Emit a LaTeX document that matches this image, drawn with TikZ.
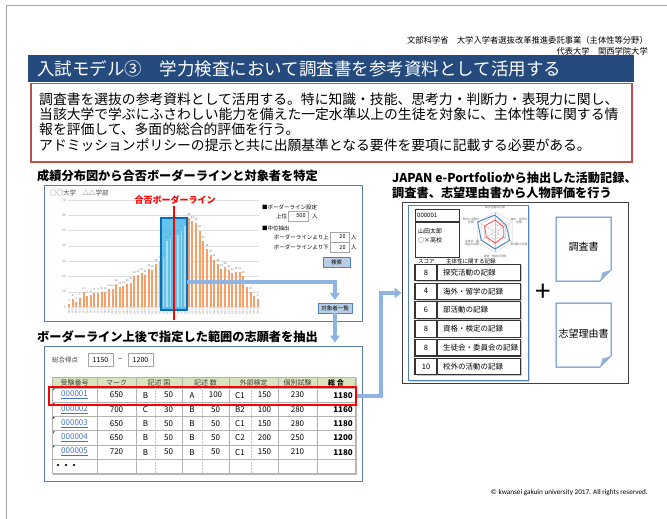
\documentclass[tikz,border=0pt]{standalone}
\usepackage{fontspec}
\setmainfont{Noto Sans CJK JP}
\newfontfamily\copyfont{Carlito}
\usetikzlibrary{arrows.meta}
\newcommand\fsz[1]{\fontsize{#1}{#1}\selectfont}
\definecolor{titleblue}{HTML}{244A7E}
\definecolor{boxred}{HTML}{C0504D}
\definecolor{panelblue}{HTML}{5B7BA6}
\definecolor{barorange}{HTML}{F5A068}
\definecolor{selcyan}{HTML}{3CB4E6}
\definecolor{selblue}{HTML}{0A6DB8}
\definecolor{arrowblue}{HTML}{8DB4E2}
\definecolor{btnfill}{HTML}{B9CDE5}
\definecolor{btnborder}{HTML}{4F81BD}
\definecolor{hdrgreen}{HTML}{D7E4BD}
\definecolor{linkblue}{HTML}{4472C4}
\definecolor{cardblue}{HTML}{4F81BD}
\tikzset{
 ctrlbox/.style={draw=gray!70, fill=white, inner sep=0, minimum height=10pt, font=\fsz{5.5}},
 btn/.style={draw=btnborder, fill=btnfill, inner sep=0, minimum height=10pt, font=\fsz{5.5}},
 barr/.style={draw=arrowblue, line width=3.5pt, -{Triangle[width=10pt,length=7pt]}},
 scorebox/.style={draw=black!80, line width=1.1pt, inner sep=0, minimum height=16.5pt, font=\fsz{7.5}},
 doc/.style={draw=cardblue, line width=1pt, fill=white},
 ctl/.style={inner sep=0, font=\fsz{5.5}},
 tab/.style={inner sep=0, font=\fsz{8}},
 thdr/.style={inner sep=0, font=\fsz{7}, text=black!75},
 head/.style={inner sep=0, anchor=west, font=\bfseries\fsz{12.2}},
 tiny/.style={inner sep=0, font=\fsz{2.8}, text=black!60, align=center},
}
\begin{document}
\begin{tikzpicture}[x=1pt,y=-1pt]
\useasboundingbox (0,0) rectangle (667,519);
% page border
\draw[gray!70, line width=0.8pt] (6,519) -- (6,5) -- (667,5);
% header
\node[anchor=east, inner sep=0, font=\fsz{8.3}] (hdr1) at (648,40) {文部科学省　大学入学者選抜改革推進委託事業（主体性等分野）};
\node[anchor=east, inner sep=0, font=\fsz{8.3}] (hdr2) at (648,51) {代表大学　関西学院大学};
% title bar
\node[fill=titleblue, minimum width=606pt, minimum height=27pt, inner sep=0] (tbar) at (331,68.5) {};
\node[anchor=west, inner sep=0, text=white, font=\fsz{17.5}] (ttl) at (37,68.5) {入試モデル③　学力検査において調査書を参考資料として活用する};
% text box
\node[draw=boxred, line width=1.2pt, minimum width=601pt, minimum height=78.5pt, inner sep=0] (tbox) at (331.5,122.75) {};
\node[anchor=base west, inner sep=0, font=\fsz{13.8}] (tb1) at (39,104) {調査書を選抜の参考資料として活用する。特に知識・技能、思考力・判断力・表現力に関し、};
\node[anchor=base west, inner sep=0, font=\fsz{13.8}] (tb2) at (39,119.5) {当該大学で学ぶにふさわしい能力を備えた一定水準以上の生徒を対象に、主体性等に関する情};
\node[anchor=base west, inner sep=0, font=\fsz{13.8}] (tb3) at (39,135) {報を評価して、多面的総合的評価を行う。};
\node[anchor=base west, inner sep=0, font=\fsz{13.8}] (tb4) at (39,150.5) {アドミッションポリシーの提示と共に出願基準となる要件を要項に記載する必要がある。};
% ---------- chart section
\node[head] (h1) at (37,176) {成績分布図から合否ボーダーラインと対象者を特定};
\node[draw=panelblue, line width=1pt, minimum width=318pt, minimum height=136pt, inner sep=0] (cpanel) at (203,253) {};
\node[anchor=west, inner sep=0, font=\fsz{6.5}, text=black!70] (univ) at (50,193) {○○大学　△△学部};
\foreach \v in {0,10,...,70}{
  \draw[gray!25, line width=0.3pt] (68,{307-1.53*\v}) -- (259,{307-1.53*\v});
  \node[anchor=east, inner sep=0, font=\fsz{3.2}, text=black!50] (yl\v) at (66,{307-1.53*\v}) {\v};
}
\foreach \v [count=\i from 0] in {2,5,3,6,10,7,8,9,9,10,10,12,12,15,13,14,15,16,20,21,22,21,25,24,28,30,32,43,45,46,47,50,53,58,56,55,50,43,38,34,31,28,25,26,24,22,23,23,20,13,10,7,5}{
  \fill[barorange] ({69+3.63*\i-1},307) rectangle ({69+3.63*\i+1},{307-1.53*\v});
  \node[inner sep=0, font=\fsz{2.6}, text=black!60] (bl\i) at ({69+3.63*\i},{303.5-1.53*\v}) {\v};
  \pgfmathtruncatemacro\sc{880+10*\i}
  \node[inner sep=0, font=\fsz{2.6}, text=black!45, rotate=90, anchor=east] (bx\i) at ({69+3.63*\i},309) {\sc};
}
\node[draw=selblue, line width=2.2pt, fill=selcyan, fill opacity=0.8, minimum width=26pt, minimum height=92pt, inner sep=0] (sel) at (174,264) {};
\foreach \v [count=\i from 26] in {32,43,45,46,47,50,53}{
  \fill[white!55!selcyan] ({69+3.63*\i-0.8},307) rectangle ({69+3.63*\i+0.8},{307-1.53*\v});
}
\node[inner sep=0, text=red, font=\bfseries\fsz{9}] (blbl) at (175,200) {合否ボーダーライン};
\coordinate (redtop) at (174,206);
\coordinate (redbot) at (174,320);
\draw[red, line width=2pt] (redtop) -- (redbot);
% controls
\node[anchor=west, ctl] (set) at (262,207) {■ボーダーライン設定};
\node[anchor=west, ctl] (jou) at (276,216) {上位};
\node[ctrlbox, minimum width=20pt] (n500) at (298,216) {\hspace{6pt}500};
\node[anchor=west, ctl] (nin1) at (312,216) {人};
\node[anchor=west, ctl] (mid) at (262,228) {■中位抽出};
\node[anchor=east, ctl] (above) at (329,237) {ボーダーラインより上};
\node[ctrlbox, minimum width=19pt] (n20a) at (339.5,237) {\hspace{6pt}20};
\node[anchor=west, ctl] (nin2) at (351,237) {人};
\node[anchor=east, ctl] (below) at (329,247.5) {ボーダーラインより下};
\node[ctrlbox, minimum width=19pt] (n20b) at (339.5,247.5) {\hspace{6pt}20};
\node[anchor=west, ctl] (nin3) at (351,247.5) {人};
\node[btn, minimum width=27pt] (search) at (336.5,262) {検索};
\node[btn, minimum width=34pt] (list) at (335,308) {対象者一覧};
\coordinate (selout) at (187,282);
\draw[barr] (selout) -| ([yshift=3pt]list.north);
% ---------- table section
\node[head] (h2) at (37,337) {ボーダーライン上後で指定した範囲の志願者を抽出};
\node[draw=panelblue, line width=1pt, minimum width=318pt, minimum height=135pt, inner sep=0] (tpanel) at (203,413.5) {};
\draw[barr] (list.south) -- ([yshift=3pt]list.south |- tpanel.north);
\node[anchor=west, inner sep=0, font=\fsz{6.5}, text=black!75] (totl) at (52,360) {総合得点};
\node[draw=gray!70, minimum width=25pt, minimum height=13pt, inner sep=0, font=\fsz{7}] (tot1) at (100.5,360) {1150};
\node[inner sep=0, font=\fsz{7}] (tilde) at (120,360) {\textasciitilde};
\node[draw=gray!70, minimum width=25pt, minimum height=13pt, inner sep=0, font=\fsz{7}] (tot2) at (140.5,360) {1200};
% table grid
\fill[hdrgreen] (52,377) rectangle (355,388);
\foreach \yy in {377,388,402.25,416.5,430.75,445,459.25,473.5}
  \draw[gray!60, line width=0.6pt] (52,\yy) -- (355,\yy);
\foreach \xx in {52,97,136,182,229,278,317,355}
  \draw[gray!60, line width=0.6pt] (\xx,377) -- (\xx,473.5);
\foreach \xx in {155,202,251}
  \draw[gray!45, line width=0.5pt, densely dotted] (\xx,388) -- (\xx,473.5);
\draw[gray!55, line width=1.4pt] (356.2,378) -- (356.2,474.7) -- (53,474.7);
\node[thdr] (th1) at (74.5,382.5) {受験番号};
\node[thdr] (th2) at (116.5,382.5) {マーク};
\node[thdr] (th3) at (159,382.5) {記述 国};
\node[thdr] (th4) at (205.5,382.5) {記述 数};
\node[thdr] (th5) at (253.5,382.5) {外部検定};
\node[thdr] (th6) at (297.5,382.5) {個別試験};
\node[inner sep=0, font=\bfseries\fsz{7}] (th7) at (336,382.5) {総 合};
\foreach \id/\mk/\ka/\kb/\sa/\sb/\ga/\gb/\ko/\tot [count=\r from 0] in
 {000001/650/B/50/A/100/C1/150/230/1180,
  000002/700/C/30/B/50/B2/100/280/1160,
  000003/650/B/50/B/50/C1/150/280/1180,
  000004/650/B/50/B/50/C2/200/250/1200,
  000005/720/B/50/B/50/C1/150/210/1180}{
  \pgfmathsetmacro\yy{395.1+14.25*\r}
  \fill[green!50!black] (52.8,{388.6+14.25*\r}) -- (55,{388.6+14.25*\r}) -- (52.8,{390.8+14.25*\r}) -- cycle;
  \node[tab, text=linkblue] (id\r) at (74.5,\yy) {\underline{\id}};
  \node[tab] (mk\r) at (116.5,\yy) {\mk};
  \node[tab] (ka\r) at (145.5,\yy) {\ka};
  \node[tab] (kb\r) at (168.5,\yy) {\kb};
  \node[tab] (sa\r) at (192,\yy) {\sa};
  \node[tab] (sb\r) at (215.5,\yy) {\sb};
  \node[tab] (ga\r) at (240,\yy) {\ga};
  \node[tab] (gb\r) at (264.5,\yy) {\gb};
  \node[tab] (ko\r) at (297.5,\yy) {\ko};
  \node[tab, anchor=east, font=\bfseries\fsz{8}] (tt\r) at (353,\yy) {\tot};
}
\node[tab, anchor=west, font=\bfseries\fsz{8}] (dots) at (54,466.4) {・・・};
\node[draw=red, line width=1.8pt, minimum width=307pt, minimum height=18pt, inner sep=0] (redbox) at (202.5,396) {};
% ---------- portfolio section
\node[head] (h3a) at (392,178) {JAPAN e-Portfolioから抽出した活動記録、};
\node[head] (h3b) at (392,193) {調査書、志望理由書から人物評価を行う};
\node[draw=black!75, line width=0.9pt, minimum width=226pt, minimum height=181pt, inner sep=0] (pfout) at (515,292.5) {};
\coordinate (bend) at (381,293);
\draw[barr] (redbox.east) -| (bend) -- (pfout.west |- bend);
\fill[gray!30] (410,207) rectangle (530,382);
\node[draw=cardblue, fill=white, line width=1pt, minimum width=120pt, minimum height=175pt, inner sep=0] (card) at (468,292.5) {};
\node[draw=black!80, line width=0.8pt, minimum width=44pt, minimum height=12pt, inner sep=0] (idbox) at (437,215) {};
\node[anchor=west, inner sep=0, font=\fsz{6}] (idtxt) at (417,215) {000001};
\node[draw=black!80, line width=0.8pt, minimum width=44pt, minimum height=35pt, inner sep=0] (namebox) at (437,239.5) {};
\node[anchor=west, inner sep=0, font=\fsz{6}] (nm1) at (418,231) {山田太郎};
\node[anchor=west, inner sep=0, font=\fsz{6}] (nm2) at (418,240) {○×高校};
% radar
\coordinate (rc) at (495,232);
\foreach \k in {2,4,...,10}
  \draw[gray!45, line width=0.3pt] ([shift={(-90:2*\k)}]rc) -- ([shift={(-30:2*\k)}]rc) -- ([shift={(30:2*\k)}]rc) -- ([shift={(90:2*\k)}]rc) -- ([shift={(150:2*\k)}]rc) -- ([shift={(210:2*\k)}]rc) -- cycle;
\foreach \a in {-90,-30,30,90,150,210}
  \draw[gray!45, line width=0.3pt] (rc) -- ([shift={(\a:20)}]rc);
\draw[red!70, line width=0.8pt] ([shift={(-90:12)}]rc) -- ([shift={(-30:10)}]rc) -- ([shift={(30:10)}]rc) -- ([shift={(90:11)}]rc) -- ([shift={(150:10)}]rc) -- ([shift={(210:12)}]rc) -- cycle;
\draw[cardblue, line width=0.9pt] ([shift={(-90:17)}]rc) -- ([shift={(-30:13)}]rc) -- ([shift={(30:17)}]rc) -- ([shift={(90:17)}]rc) -- ([shift={(150:16)}]rc) -- ([shift={(210:20)}]rc) -- cycle;
\node[tiny] (rl1) at (495,207) {探究活動の記録};
\node[tiny] (rl2) at (519,221) {海外・留学の\\記録};
\node[tiny] (rl3) at (519,244) {部活動の記録};
\node[tiny] (rl4) at (495,256) {資格・検定の記録};
\node[tiny] (rl5) at (472,243) {生徒会・委\\員会の記録};
\node[tiny] (rl6) at (471,221) {校外の活動の\\記録};
% score rows
\node[anchor=west, inner sep=0, font=\fsz{5.5}] (scl) at (418,261.5) {スコア};
\node[anchor=west, inner sep=0, font=\fsz{5.5}] (rcl) at (446,261.5) {主体性に関する記録};
\foreach \s/\t [count=\r from 0] in {8/探究活動の記録,4/海外・留学の記録,6/部活動の記録,8/資格・検定の記録,8/生徒会・委員会の記録,10/校外の活動の記録}{
  \pgfmathsetmacro\yy{272.5+18.8*\r}
  \fill[gray!45] (417,{\yy-7.2}) rectangle (521.5,{\yy+9.5});
  \node[scorebox, fill=white, minimum width=22pt] (sc\r) at (426,\yy) {\s};
  \node[scorebox, fill=white, minimum width=83pt, anchor=west] (sr\r) at (437,\yy) {};
  \node[anchor=west, inner sep=0, font=\fsz{7.5}] (st\r) at (443,\yy) {\t};
}
\node[inner sep=0, font=\fsz{28}] (plus) at (543,293) {+};
% documents
\draw[doc] (556,217) -- (611,217) -- (611,270) -- (600,281) -- (556,281) -- cycle;
\fill[cardblue!60] (600,281) -- (602.5,272.5) -- (611,270) -- cycle;
\node[inner sep=0, font=\fsz{10}] (doc1) at (583.5,247) {調査書};
\draw[doc] (556,303) -- (611,303) -- (611,356) -- (600,367) -- (556,367) -- cycle;
\fill[cardblue!60] (600,367) -- (602.5,358.5) -- (611,356) -- cycle;
\node[inner sep=0, font=\fsz{10}] (doc2) at (583.5,334) {志望理由書};
% copyright
\node[anchor=east, inner sep=0, font=\copyfont\fsz{7.2}] (copy) at (648,493) {© kwansei gakuin university 2017. All rights reserved.};
\end{tikzpicture}
\end{document}
